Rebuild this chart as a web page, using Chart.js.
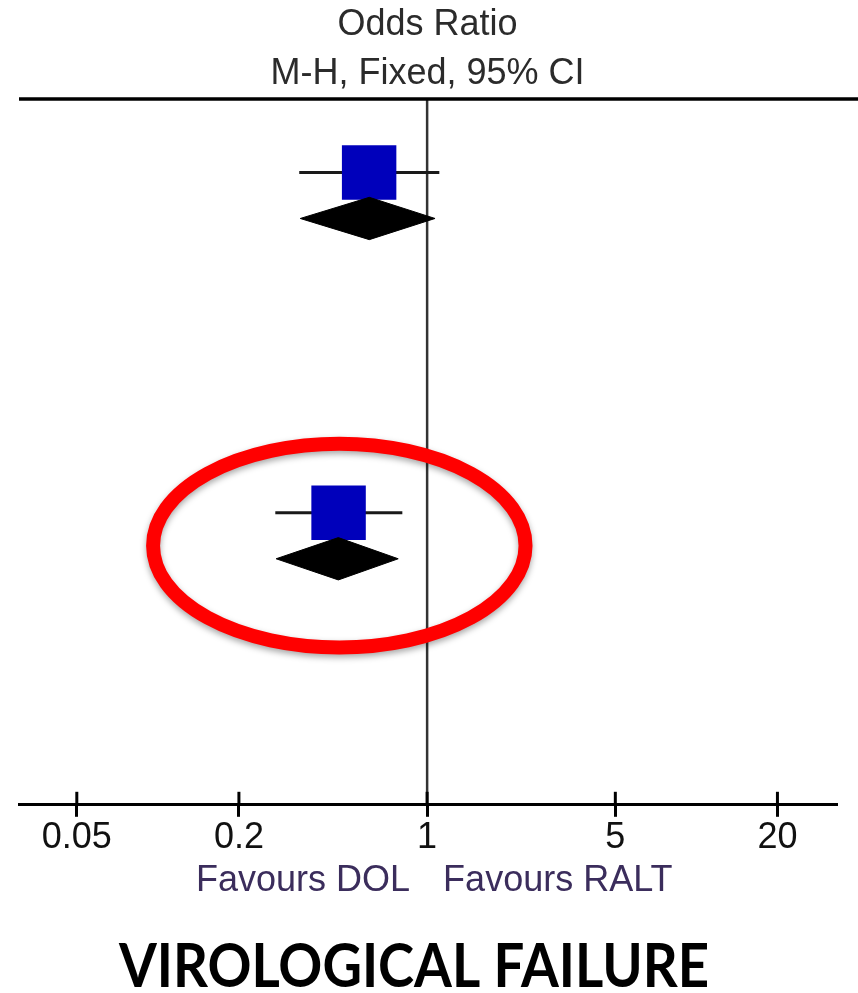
<!DOCTYPE html>
<html><head><meta charset="utf-8">
<script src="https://cdn.jsdelivr.net/npm/chart.js@4/dist/chart.umd.min.js"></script>
<style>html,body{margin:0;padding:0;background:#fff}#wrap{width:858px;height:993px;position:relative}</style>
</head><body><div id="wrap"><canvas id="c"></canvas></div>
<script>
// ---- data ----
const titleLines = ['Odds Ratio', 'M-H, Fixed, 95% CI'];
const studyRows = [1.6, 9.0];          // row positions (lines from top)
const studyOR   = [0.609, 0.469];
const studyLo   = [0.335, 0.273];
const studyHi   = [1.11, 0.809];
const totalRows = [2.6, 10.0];
const totalOR   = [0.61, 0.468];
const totalLo   = [0.338, 0.275];
const totalHi   = [1.07, 0.781];
const xTicks    = [0.05, 0.2, 1, 5, 20];
const xRange    = [0.0305, 33];
const rowCount  = 15.35;
const favourLeft  = 'Favours DOL';
const favourRight = 'Favours RALT';
const footerText  = 'VIROLOGICAL FAILURE';
const highlight   = {xMin: 0.096, xMax: 2.32, yMin: 7.5, yMax: 11.93};

// ---- styles ----
const FONT = '"Liberation Sans", Arial, sans-serif';
const DIAMOND_HALF = 0.46;

const datasets = [];
// reference line at OR = 1
datasets.push({data: [{x: 1, y: 0}, {x: 1, y: rowCount}], showLine: true, borderColor: '#333',
  borderWidth: 2.5, pointRadius: 0, order: 5});
// confidence interval lines
studyOR.forEach((v, i) => {
  datasets.push({data: [{x: studyLo[i], y: studyRows[i]}, {x: studyHi[i], y: studyRows[i]}],
    showLine: true, borderColor: '#1a1a1a', borderWidth: 3, pointRadius: 0, order: 3});
});
// study squares
datasets.push({data: studyOR.map((v, i) => ({x: v, y: studyRows[i]})), showLine: false,
  pointStyle: 'rect', pointRadius: 38.5, backgroundColor: '#0000bb', borderWidth: 0, order: 2});
// pooled diamonds
totalOR.forEach((v, i) => {
  const r = totalRows[i];
  datasets.push({data: [{x: totalLo[i], y: r}, {x: v, y: r - DIAMOND_HALF}, {x: totalHi[i], y: r},
      {x: v, y: r + DIAMOND_HALF}, {x: totalLo[i], y: r}],
    showLine: true, fill: 'shape', backgroundColor: '#000', borderColor: '#000', borderWidth: 1,
    pointRadius: 0, tension: 0, order: 1});
});

const decor = {
  id: 'decor',
  afterDraw(chart) {
    const ctx = chart.ctx, ca = chart.chartArea;
    const xs = chart.scales.x, ys = chart.scales.y;
    ctx.save();
    // top rule
    ctx.strokeStyle = '#000'; ctx.lineWidth = 3.5;
    ctx.beginPath(); ctx.moveTo(ca.left, ca.top); ctx.lineTo(chart.width, ca.top); ctx.stroke();
    // inner tick stubs
    ctx.lineWidth = 3;
    xTicks.forEach(t => {
      const px = xs.getPixelForValue(t);
      ctx.beginPath(); ctx.moveTo(px, ca.bottom - 13); ctx.lineTo(px, ca.bottom); ctx.stroke();
    });
    // favours labels
    const x1 = xs.getPixelForValue(1);
    ctx.font = '36px ' + FONT; ctx.fillStyle = '#3b2d5c'; ctx.textBaseline = 'alphabetic';
    ctx.textAlign = 'right'; ctx.fillText(favourLeft, x1 - 17, ca.bottom + 86);
    ctx.textAlign = 'left'; ctx.fillText(favourRight, x1 + 16, ca.bottom + 86);
    // footer
    ctx.font = 'bold 62px Lato, "Open Sans", sans-serif'; ctx.fillStyle = '#000';
    ctx.textAlign = 'center';
    ctx.fillText(footerText, 414, chart.height - 6, 590);
    // highlight ellipse
    const ex1 = xs.getPixelForValue(highlight.xMin), ex2 = xs.getPixelForValue(highlight.xMax);
    const ey1 = ys.getPixelForValue(highlight.yMin), ey2 = ys.getPixelForValue(highlight.yMax);
    ctx.shadowColor = 'rgba(0,0,0,0.35)'; ctx.shadowBlur = 6; ctx.shadowOffsetY = 3;
    ctx.strokeStyle = '#ff0000'; ctx.lineWidth = 14;
    ctx.beginPath();
    ctx.ellipse((ex1 + ex2) / 2, (ey1 + ey2) / 2, Math.abs(ex2 - ex1) / 2, Math.abs(ey2 - ey1) / 2, 0, 0, Math.PI * 2);
    ctx.stroke();
    ctx.restore();
  }
};

new Chart(document.getElementById('c'), {
  type: 'scatter',
  data: {datasets},
  plugins: [decor],
  options: {
    responsive: true, maintainAspectRatio: false, animation: false, events: [],
    layout: {autoPadding: false, padding: {left: 19, right: 22, top: 0, bottom: 133}},
    plugins: {
      legend: {display: false}, tooltip: {enabled: false},
      title: {display: true, text: titleLines, color: '#2b2b2b',
        font: {family: FONT, size: 36, weight: 'normal', lineHeight: 1.36}, padding: {top: 1, bottom: 0}}
    },
    scales: {
      x: {type: 'logarithmic', min: xRange[0], max: xRange[1],
        afterBuildTicks: s => { s.ticks = xTicks.map(v => ({value: v})); },
        afterFit: s => { s.paddingLeft = 0; s.paddingRight = 0; },
        ticks: {callback: v => String(v), color: '#111', font: {family: FONT, size: 36}, padding: 0,
          maxRotation: 0, autoSkip: false},
        grid: {drawOnChartArea: false, drawTicks: true, tickLength: 12, lineWidth: 3, color: '#000'},
        border: {display: true, width: 3, color: '#000'}
      },
      y: {type: 'linear', min: 0, max: rowCount, reverse: true, display: false}
    }
  }
});
</script></body></html>
